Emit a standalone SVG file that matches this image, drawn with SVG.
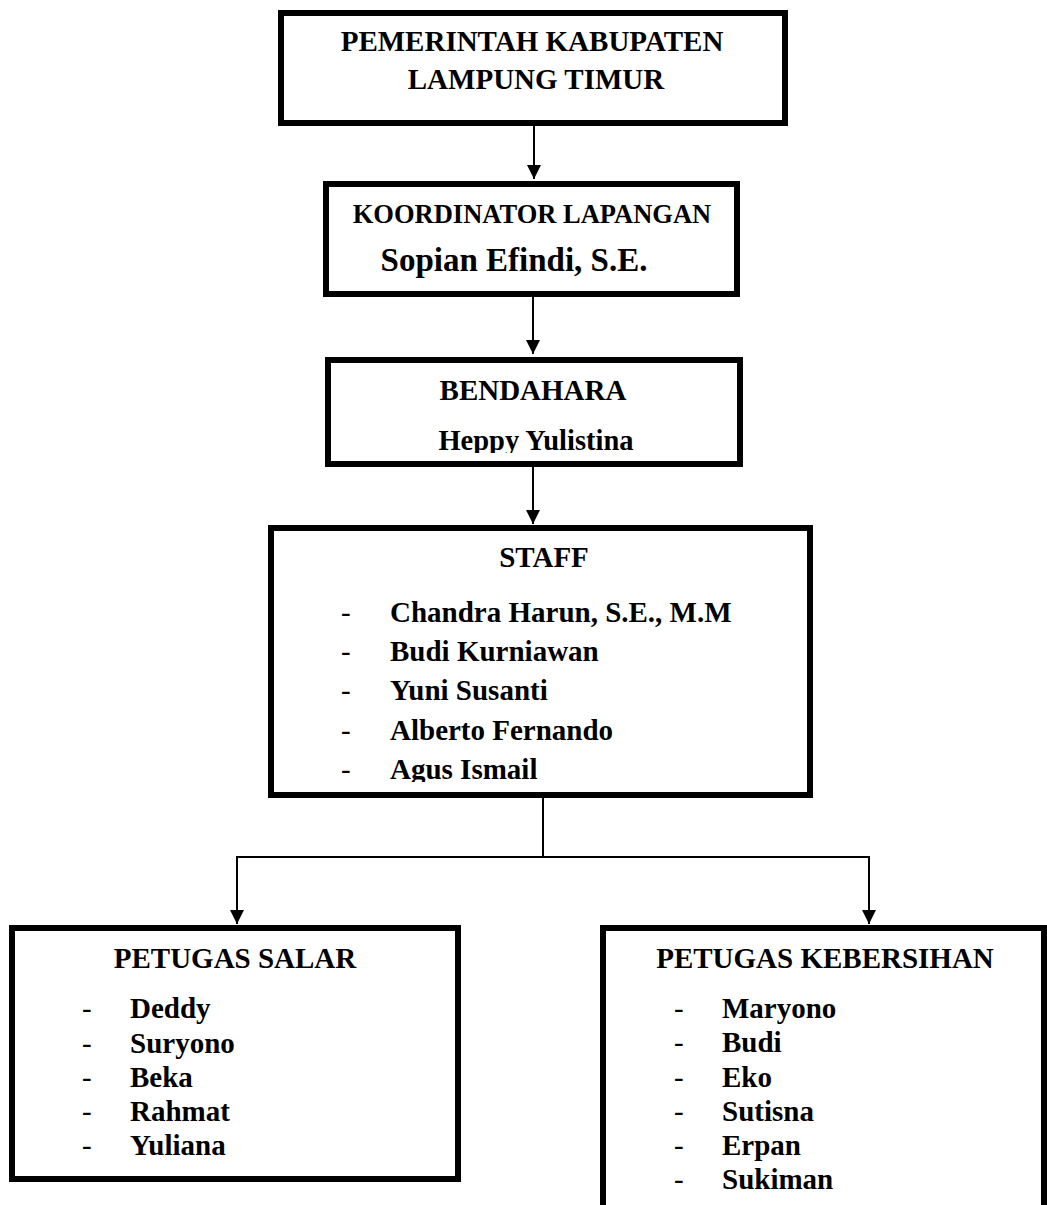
<svg xmlns="http://www.w3.org/2000/svg" width="1047" height="1205" viewBox="0 0 1047 1205">
<style>
.box{fill:#fff;stroke:#000;stroke-width:6}
.t{font-family:"Liberation Serif","Times New Roman",serif;font-weight:bold;fill:#000}
.d{font-family:"Liberation Serif","Times New Roman",serif;font-weight:normal;fill:#000}
.c{text-anchor:middle}
.ln{fill:none;stroke:#000;stroke-width:2}
</style>
<defs>
<marker id="ah" markerUnits="userSpaceOnUse" markerWidth="14" markerHeight="14" refX="14" refY="7" orient="auto" viewBox="0 0 14 14">
<path d="M0,0 L14,7 L0,14 Z" fill="#000"/>
</marker>
<clipPath id="clipB"><rect x="330" y="362" width="408" height="91"/></clipPath>
<clipPath id="clipS"><rect x="274" y="530" width="534" height="252"/></clipPath>
</defs>
<rect width="1047" height="1205" fill="#fff"/>
<g id="connectors">
<line class="ln" x1="534" y1="126" x2="534" y2="179" marker-end="url(#ah)"/>
<line class="ln" x1="533" y1="297" x2="533" y2="354" marker-end="url(#ah)"/>
<line class="ln" x1="533" y1="467" x2="533" y2="524" marker-end="url(#ah)"/>
<polyline class="ln" points="543,798 543,857"/>
<polyline class="ln" points="237,857 869,857"/>
<line class="ln" x1="237" y1="856" x2="237" y2="924" marker-end="url(#ah)"/>
<line class="ln" x1="869" y1="856" x2="869" y2="924" marker-end="url(#ah)"/>
</g>
<g id="pemerintah">
<rect class="box" x="281" y="13" width="504" height="110"/>
<text class="t c" x="532" y="51" font-size="29">PEMERINTAH KABUPATEN</text>
<text class="t c" x="536" y="89" font-size="29">LAMPUNG TIMUR</text>
</g>
<g id="koordinator">
<rect class="box" x="326" y="184" width="411" height="110"/>
<text class="t c" x="532" y="223" font-size="26.5">KOORDINATOR LAPANGAN</text>
<text class="t c" x="514" y="271" font-size="33">Sopian Efindi, S.E.</text>
</g>
<g id="bendahara">
<rect class="box" x="328" y="360" width="412" height="104"/>
<text class="t c" x="533" y="400" font-size="29">BENDAHARA</text>
<text class="t c" x="536" y="450" font-size="28.5" clip-path="url(#clipB)">Heppy Yulistina</text>
</g>
<g id="staff">
<rect class="box" x="271" y="528" width="539" height="267"/>
<text class="t c" x="544" y="567" font-size="29">STAFF</text>
<g clip-path="url(#clipS)" font-size="29">
<text class="d" x="341" y="622">-</text><text class="t" x="390" y="622">Chandra Harun, S.E., M.M</text>
<text class="d" x="341" y="661">-</text><text class="t" x="390" y="661">Budi Kurniawan</text>
<text class="d" x="341" y="700">-</text><text class="t" x="390" y="700">Yuni Susanti</text>
<text class="d" x="341" y="740">-</text><text class="t" x="390" y="740">Alberto Fernando</text>
<text class="d" x="341" y="779">-</text><text class="t" x="390" y="779">Agus Ismail</text>
</g>
</g>
<g id="petugas-salar">
<rect class="box" x="12" y="928" width="446" height="251"/>
<text class="t c" x="235" y="968" font-size="29">PETUGAS SALAR</text>
<g font-size="29">
<text class="d" x="82" y="1018">-</text><text class="t" x="130" y="1018">Deddy</text>
<text class="d" x="82" y="1053">-</text><text class="t" x="130" y="1053">Suryono</text>
<text class="d" x="82" y="1087">-</text><text class="t" x="130" y="1087">Beka</text>
<text class="d" x="82" y="1121">-</text><text class="t" x="130" y="1121">Rahmat</text>
<text class="d" x="82" y="1155">-</text><text class="t" x="130" y="1155">Yuliana</text>
</g>
</g>
<g id="petugas-kebersihan">
<path d="M603,1210 L603,928 L1044,928 L1044,1210" fill="#fff" stroke="#000" stroke-width="6"/>
<text class="t c" x="825" y="968" font-size="29">PETUGAS KEBERSIHAN</text>
<g font-size="29">
<text class="d" x="674" y="1018">-</text><text class="t" x="722" y="1018">Maryono</text>
<text class="d" x="674" y="1052">-</text><text class="t" x="722" y="1052">Budi</text>
<text class="d" x="674" y="1087">-</text><text class="t" x="722" y="1087">Eko</text>
<text class="d" x="674" y="1121">-</text><text class="t" x="722" y="1121">Sutisna</text>
<text class="d" x="674" y="1155">-</text><text class="t" x="722" y="1155">Erpan</text>
<text class="d" x="674" y="1189">-</text><text class="t" x="722" y="1189">Sukiman</text>
</g>
</g>
</svg>
